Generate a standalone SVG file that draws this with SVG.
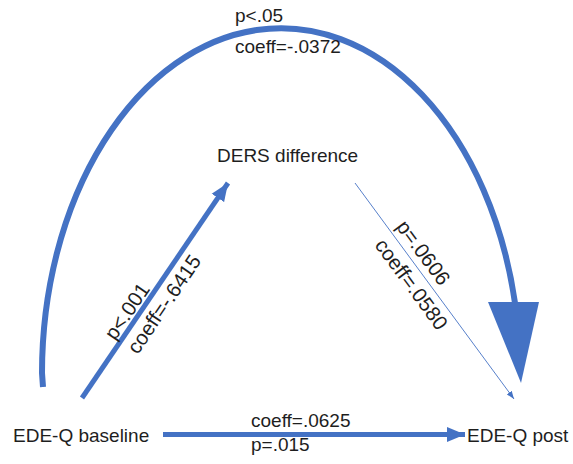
<svg xmlns="http://www.w3.org/2000/svg" width="573" height="464" viewBox="0 0 573 464">
  <style>
    .t { font-family: "Liberation Sans", Arial, sans-serif; font-size: 19px; fill: #1e1e1e; }
    .r { font-size: 20.5px; }
    .thick { fill: none; stroke: #4472C4; stroke-width: 5; }
    .arc { fill: none; stroke: #4472C4; stroke-width: 6; }
    .thin { fill: none; stroke: #4472C4; stroke-width: 0.9; }
    .head { fill: #4472C4; }
  </style>
  <defs>
    <marker id="ah" markerUnits="userSpaceOnUse" markerWidth="20" markerHeight="16" refX="18" refY="8" orient="auto">
      <path d="M0,0.5 L18,8 L0,15.5 Z" fill="#4472C4"/>
    </marker>
    <marker id="ahs" markerUnits="userSpaceOnUse" markerWidth="9" markerHeight="7" refX="8" refY="3.5" orient="auto">
      <path d="M0,0.5 L8,3.5 L0,6.5 Z" fill="#4472C4"/>
    </marker>
  </defs>
  <rect width="573" height="464" fill="#fff"/>
  <g id="connectors">
    <path class="arc" d="M43,387 L42,373 A239,345 0 0 1 515,303"/>
    <polygon class="head" points="488,302 539,302 521,383"/>
    <line class="thick" x1="82" y1="398" x2="228" y2="183" marker-end="url(#ah)"/>
    <line class="thin" x1="355" y1="183" x2="514" y2="399" marker-end="url(#ahs)"/>
    <line class="thick" x1="163" y1="434.5" x2="465" y2="434.5" marker-end="url(#ah)"/>
  </g>
  <g id="labels">
    <text class="t" x="235" y="22">p&lt;.05</text>
    <text class="t" x="235" y="53">coeff=-.0372</text>
    <text class="t r" text-anchor="middle" transform="translate(127.5,311.5) rotate(-55.8)" y="6.5">p&lt;.001</text>
    <text class="t r" text-anchor="middle" transform="translate(164.5,304.5) rotate(-55.8)" y="6.5">coeff=-.6415</text>
    <text class="t r" text-anchor="middle" transform="translate(423,253) rotate(53.6)" y="6.5">p=.0606</text>
    <text class="t r" text-anchor="middle" transform="translate(411,284.5) rotate(53.6)" y="6.5">coeff=.0580</text>
    <text class="t" x="251" y="427">coeff=.0625</text>
    <text class="t" x="251" y="451">p=.015</text>
  </g>
  <g id="node-ders">
    <text class="t" x="217" y="162">DERS difference</text>
  </g>
  <g id="node-edeq-baseline">
    <text class="t" x="13" y="442">EDE-Q baseline</text>
  </g>
  <g id="node-edeq-post">
    <text class="t" x="467" y="442">EDE-Q post</text>
  </g>
</svg>
